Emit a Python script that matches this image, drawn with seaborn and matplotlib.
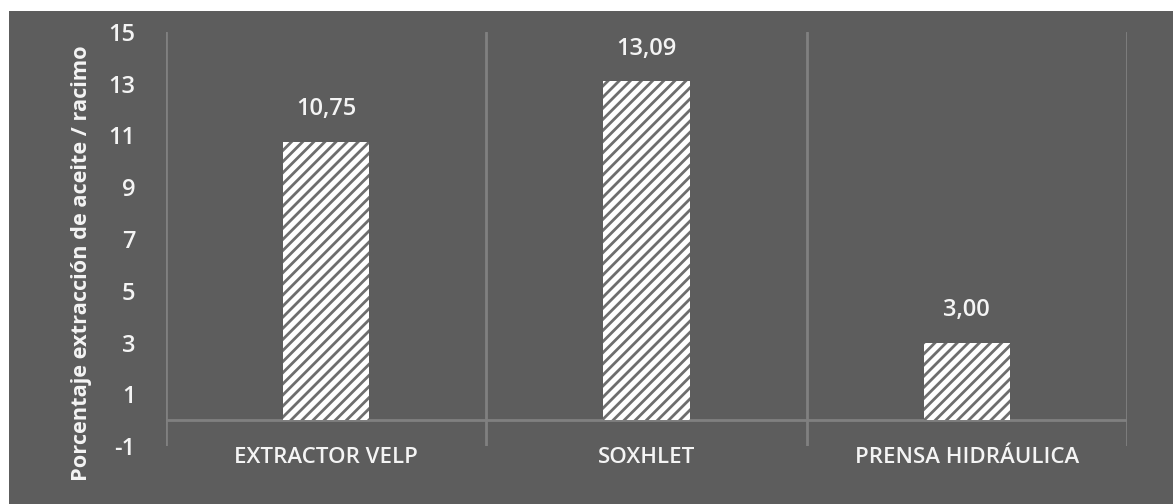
import matplotlib
matplotlib.use("Agg")
import matplotlib.pyplot as plt
from matplotlib.patches import Rectangle
import seaborn as sns
import pandas as pd

# Oil extraction yield per bunch, by extraction method
methods = ["EXTRACTOR VELP", "SOXHLET", "PRENSA HIDRÁULICA"]
yields = [10.75, 13.09, 3.00]
y_ticks = [-1, 1, 3, 5, 7, 9, 11, 13, 15]
y_label = "Porcentaje extracción de aceite / racimo"

BG = "#5d5d5d"
LINE = "#808080"
TEXT = "#f4f4f4"

sns.set_theme(style="white")
plt.rcParams["font.family"] = ["Open Sans", "DejaVu Sans"]
plt.rcParams["hatch.linewidth"] = 2.0

df = pd.DataFrame({"method": methods, "yield": yields})

fig = plt.figure(figsize=(11.73, 5.04), dpi=100, facecolor="white")
# dark panel behind the chart
fig.patches.append(Rectangle((9 / 1173, 0), 1 - 9 / 1173, 1 - 11 / 504,
                             transform=fig.transFigure, facecolor=BG,
                             edgecolor="none", zorder=-10))

ax = fig.add_axes([166 / 1173, 1 - 446 / 504, (1127 - 166) / 1173, (446 - 32) / 504])
ax.set_facecolor(BG)
ax.set_zorder(1)

sns.barplot(data=df, x="method", y="yield", ax=ax, color="white",
            width=0.27, saturation=1, edgecolor="#6e6e6e", linewidth=0,
            hatch="///", zorder=3)

ax.set_ylim(-1, 15)
ax.set_xlim(-0.5, 2.5)
ax.set_yticks(y_ticks)
ax.set_yticklabels([str(t) for t in y_ticks])

# category separators and the zero line
for xb in [-0.5, 0.5, 1.5, 2.5]:
    ax.axvline(xb, color=LINE, lw=2, zorder=1)
ax.axhline(0, color=LINE, lw=2, zorder=2)

for s in ax.spines.values():
    s.set_visible(False)

ax.tick_params(axis="y", length=0, pad=22, labelsize=17, labelcolor=TEXT)
ax.tick_params(axis="x", length=0, pad=1, labelsize=16, labelcolor=TEXT)
for lbl in ax.get_yticklabels() + ax.get_xticklabels():
    lbl.set_fontweight("semibold")
ax.set_xlabel("")
ax.set_ylabel("")

for c in ax.containers:
    ax.bar_label(c, labels=[f"{v:.2f}".replace(".", ",") for v in c.datavalues],
                 padding=15, fontsize=17, color=TEXT, fontweight="semibold")

fig.text(82 / 1173, 1 - 263 / 504, y_label, rotation=90, ha="center",
         va="center", fontsize=15.7, fontweight="bold", color=TEXT, zorder=5)

fig.savefig("out.png", dpi=100, facecolor="white")
